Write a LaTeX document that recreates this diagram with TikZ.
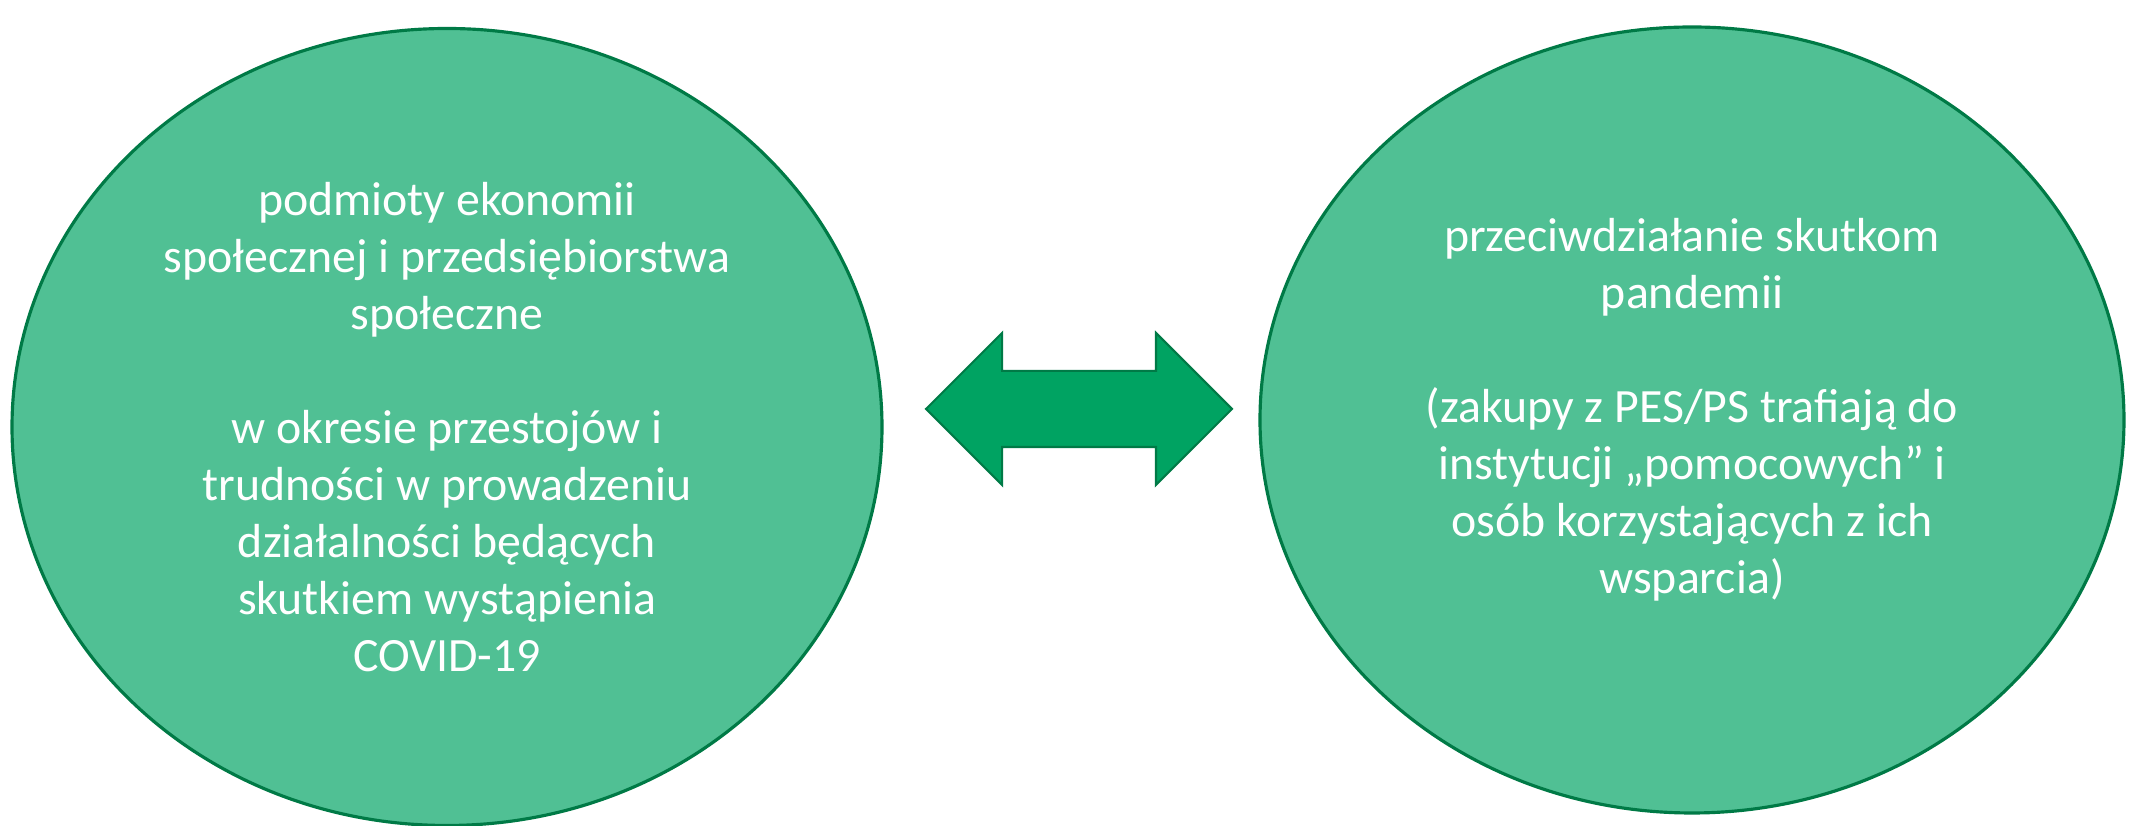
\documentclass[tikz,border=0pt]{standalone}
\usepackage{fontspec}
\setmainfont{Carlito}
\usetikzlibrary{shapes.geometric,shapes.arrows}
\definecolor{ovalfill}{RGB}{80,192,148}
\definecolor{ovaledge}{RGB}{0,122,70}
\definecolor{arrowfill}{RGB}{0,163,98}
\begin{document}
\begin{tikzpicture}[
    oval/.style={ellipse, fill=ovalfill, draw=ovaledge, line width=0.9pt, inner sep=0pt,
      text=white, align=center, font=\fontsize{13.6pt}{16.2pt}\selectfont},
    linkarrow/.style={double arrow, fill=arrowfill, draw=ovaledge, line width=0.6pt,
      inner xsep=0pt, inner ysep=0.37cm, minimum height=3.06cm,
      double arrow head extend=0.38cm, double arrow tip angle=90}
  ]
  \useasboundingbox (0,0) rectangle (21.29,8.26);
  \node[oval, minimum width=8.70cm, minimum height=7.97cm] (pes) at (4.47,3.99) {};
  \node[oval, minimum width=8.64cm, minimum height=7.86cm] (skutki) at (16.92,4.06) {};
  \node[oval, draw=none, fill=none] (pestext) at (4.47,3.99)
    {podmioty ekonomii\\ społecznej i przedsiębiorstwa\\ społeczne\\[16.2pt]
     w okresie przestojów i\\ trudności w prowadzeniu\\ działalności będących\\
     skutkiem wystąpienia\\ COVID-19};
  \node[oval, draw=none, fill=none] (skutkitext) at (16.92,4.16)
    {przeciwdziałanie skutkom\\ pandemii\\[16.2pt]
     (zakupy z PES/PS trafiają do\\ instytucji „pomocowych” i\\
     osób korzystających z ich\\ wsparcia)};
  \node[linkarrow] (link) at (10.79,4.17) {};
\end{tikzpicture}
\end{document}
